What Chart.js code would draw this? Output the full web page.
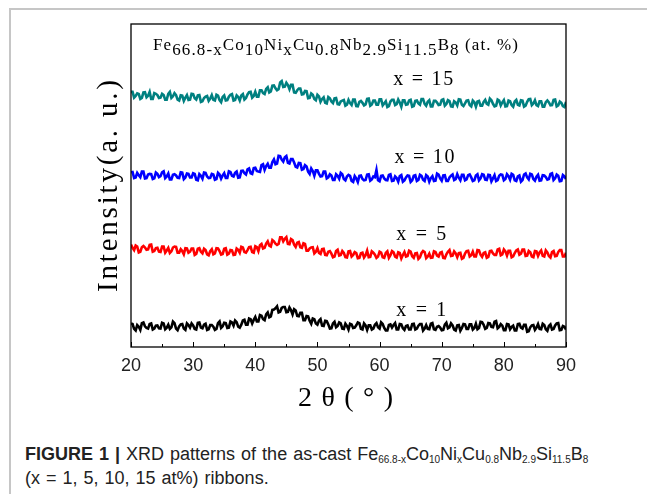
<!DOCTYPE html>
<html>
<head>
<meta charset="utf-8">
<script src="https://cdn.jsdelivr.net/npm/chart.js@4.4.0/dist/chart.umd.min.js"></script>
<style>
  body { margin: 0; background: #fff; }
  #page { position: relative; width: 647px; height: 494px; overflow: hidden; }
  #frame { position: absolute; left: 9px; top: 8px; width: 660px; height: 500px;
           border-left: 2px solid #c6c6c6; border-top: 2px solid #c6c6c6; }
  #xrd { position: absolute; left: 0; top: 0; }
  #caption { position: absolute; left: 25px; top: 442px; color: #222;
             font-family: "Liberation Sans", Arial, sans-serif; font-size: 18px; line-height: 24px; word-spacing: 1px; }
  #caption sub { font-size: 10px; vertical-align: -3px; line-height: 0; }
</style>
</head>
<body>
<div id="page">
  <div id="frame"></div>
  <canvas id="xrd" width="647" height="420"></canvas>
  <div id="caption"><b>FIGURE 1 |</b> XRD patterns of the as-cast Fe<sub>66.8-x</sub>Co<sub>10</sub>Ni<sub>x</sub>Cu<sub>0.8</sub>Nb<sub>2.9</sub>Si<sub>11.5</sub>B<sub>8</sub><br>(x = 1, 5, 10, 15 at%) ribbons.</div>
</div>
<script>
var twoTheta = [
  20, 20.25, 20.5, 20.75, 21, 21.25, 21.5, 21.75, 22, 22.25, 22.5, 22.75, 23, 23.25, 23.5, 23.75, 24, 24.25, 24.5, 24.75,
  25, 25.25, 25.5, 25.75, 26, 26.25, 26.5, 26.75, 27, 27.25, 27.5, 27.75, 28, 28.25, 28.5, 28.75, 29, 29.25, 29.5, 29.75,
  30, 30.25, 30.5, 30.75, 31, 31.25, 31.5, 31.75, 32, 32.25, 32.5, 32.75, 33, 33.25, 33.5, 33.75, 34, 34.25, 34.5, 34.75,
  35, 35.25, 35.5, 35.75, 36, 36.25, 36.5, 36.75, 37, 37.25, 37.5, 37.75, 38, 38.25, 38.5, 38.75, 39, 39.25, 39.5, 39.75,
  40, 40.25, 40.5, 40.75, 41, 41.25, 41.5, 41.75, 42, 42.25, 42.5, 42.75, 43, 43.25, 43.5, 43.75, 44, 44.25, 44.5, 44.75,
  45, 45.25, 45.5, 45.75, 46, 46.25, 46.5, 46.75, 47, 47.25, 47.5, 47.75, 48, 48.25, 48.5, 48.75, 49, 49.25, 49.5, 49.75,
  50, 50.25, 50.5, 50.75, 51, 51.25, 51.5, 51.75, 52, 52.25, 52.5, 52.75, 53, 53.25, 53.5, 53.75, 54, 54.25, 54.5, 54.75,
  55, 55.25, 55.5, 55.75, 56, 56.25, 56.5, 56.75, 57, 57.25, 57.5, 57.75, 58, 58.25, 58.5, 58.75, 59, 59.25, 59.5, 59.75,
  60, 60.25, 60.5, 60.75, 61, 61.25, 61.5, 61.75, 62, 62.25, 62.5, 62.75, 63, 63.25, 63.5, 63.75, 64, 64.25, 64.5, 64.75,
  65, 65.25, 65.5, 65.75, 66, 66.25, 66.5, 66.75, 67, 67.25, 67.5, 67.75, 68, 68.25, 68.5, 68.75, 69, 69.25, 69.5, 69.75,
  70, 70.25, 70.5, 70.75, 71, 71.25, 71.5, 71.75, 72, 72.25, 72.5, 72.75, 73, 73.25, 73.5, 73.75, 74, 74.25, 74.5, 74.75,
  75, 75.25, 75.5, 75.75, 76, 76.25, 76.5, 76.75, 77, 77.25, 77.5, 77.75, 78, 78.25, 78.5, 78.75, 79, 79.25, 79.5, 79.75,
  80, 80.25, 80.5, 80.75, 81, 81.25, 81.5, 81.75, 82, 82.25, 82.5, 82.75, 83, 83.25, 83.5, 83.75, 84, 84.25, 84.5, 84.75,
  85, 85.25, 85.5, 85.75, 86, 86.25, 86.5, 86.75, 87, 87.25, 87.5, 87.75, 88, 88.25, 88.5, 88.75, 89, 89.25, 89.5, 89.75, 90
];

// stacked intensities (a.u.), one curve per Ni content
var ni1 = [
  7.3, 7.1, 5.6, 5.1, 6.8, 6.3, 5.3, 7.4, 7.6, 6.4, 5.9, 5.7, 7.1, 7.3, 5.4, 5.7, 6.6, 6.7, 5.8, 5.7,
  7.5, 7.3, 5.5, 6.0, 6.9, 5.6, 6.1, 7.9, 7.4, 5.7, 5.2, 6.4, 7.0, 7.1, 5.7, 5.3, 7.3, 6.8, 6.0, 7.3,
  6.7, 5.6, 5.4, 7.5, 7.6, 6.0, 5.8, 6.9, 7.2, 5.3, 5.5, 6.8, 6.8, 6.3, 5.3, 5.6, 7.4, 7.9, 5.9, 6.4,
  7.5, 7.4, 5.9, 6.0, 7.9, 7.6, 6.6, 8.2, 7.7, 6.3, 6.0, 6.9, 8.2, 8.4, 6.9, 6.9, 8.8, 8.6, 7.3, 8.4,
  9.3, 7.9, 7.9, 9.9, 9.7, 8.6, 8.3, 10.1, 10.7, 9.2, 9.5, 11.5, 11.6, 12.0, 12.6, 10.7, 10.9, 12.1, 12.4, 12.4,
  10.8, 10.9, 12.2, 11.4, 10.1, 11.7, 11.3, 9.6, 9.5, 10.6, 10.6, 8.3, 8.3, 9.6, 9.5, 8.1, 7.2, 8.8, 8.6, 7.3,
  6.9, 8.1, 8.6, 6.6, 6.5, 8.1, 8.0, 7.0, 5.7, 5.8, 7.3, 7.8, 6.1, 6.5, 7.6, 7.3, 5.7, 5.6, 7.2, 6.5,
  5.4, 7.2, 7.0, 5.9, 6.0, 6.7, 7.6, 7.4, 5.6, 5.4, 7.3, 6.7, 5.3, 6.7, 6.7, 5.4, 5.7, 6.9, 7.4, 6.1,
  5.7, 7.6, 7.1, 5.9, 5.1, 5.1, 6.8, 7.0, 6.0, 6.8, 7.4, 5.4, 5.4, 7.1, 7.0, 5.8, 5.3, 6.5, 6.7, 5.4,
  5.4, 7.1, 7.2, 5.4, 5.7, 6.6, 7.1, 7.1, 5.1, 5.7, 6.8, 5.6, 5.5, 7.2, 7.4, 5.5, 5.3, 6.3, 6.5, 6.0,
  5.2, 5.3, 6.9, 7.5, 5.8, 6.1, 7.3, 6.7, 5.4, 5.1, 6.7, 6.8, 5.0, 5.9, 7.1, 7.0, 5.6, 5.6, 7.0, 7.0,
  5.4, 5.9, 7.2, 5.5, 5.9, 7.8, 7.7, 6.9, 5.6, 5.9, 7.4, 7.3, 6.2, 6.1, 7.8, 8.0, 5.8, 6.2, 7.1, 6.6,
  5.2, 5.2, 7.1, 7.0, 5.5, 6.2, 6.6, 5.1, 5.1, 7.1, 7.2, 6.0, 5.7, 6.9, 6.9, 4.7, 4.9, 6.1, 6.7, 6.8,
  5.3, 6.0, 7.1, 5.6, 5.5, 7.2, 6.8, 5.5, 5.0, 6.5, 7.0, 5.4, 5.6, 6.7, 7.3, 7.4, 5.2, 5.3, 6.5, 6.3, 5.4
];
var ni5 = [
  31.7, 30.7, 30.0, 31.4, 31.1, 29.3, 29.5, 30.9, 31.3, 30.8, 30.1, 30.2, 31.6, 31.7, 29.5, 29.7, 30.6, 30.7, 29.5, 29.4,
  31.1, 31.1, 29.2, 29.9, 30.7, 29.1, 29.6, 30.8, 31.1, 31.0, 29.2, 29.2, 30.3, 29.7, 28.7, 30.6, 30.5, 29.2, 29.5, 30.5,
  30.5, 28.5, 28.8, 30.4, 30.6, 29.5, 29.0, 30.4, 30.0, 28.7, 28.4, 29.7, 30.3, 28.7, 29.0, 30.6, 30.5, 29.7, 28.6, 28.8,
  30.4, 30.6, 28.6, 28.9, 30.0, 29.9, 28.5, 28.6, 30.5, 30.1, 29.2, 31.0, 30.8, 29.4, 29.2, 30.0, 30.9, 31.0, 29.4, 29.2,
  31.2, 30.9, 29.7, 31.5, 31.9, 30.5, 30.7, 32.0, 32.7, 31.4, 31.1, 33.1, 32.7, 32.0, 31.6, 31.9, 34.0, 34.0, 32.7, 33.5,
  34.0, 31.9, 31.8, 33.4, 33.1, 31.7, 31.0, 32.3, 32.5, 30.9, 30.7, 32.1, 31.9, 29.8, 29.8, 30.5, 30.8, 30.9, 29.0, 29.5,
  30.6, 29.1, 28.8, 30.3, 30.4, 28.5, 28.4, 29.5, 29.7, 28.9, 27.8, 28.0, 29.7, 30.1, 28.3, 28.5, 29.7, 29.1, 27.8, 27.7,
  29.6, 29.7, 28.0, 28.5, 29.4, 29.1, 27.5, 27.6, 29.0, 29.2, 27.7, 28.4, 29.8, 27.8, 27.9, 29.6, 29.2, 28.6, 27.6, 28.0,
  29.5, 29.2, 27.8, 27.6, 29.1, 29.6, 27.6, 28.4, 29.7, 29.3, 28.0, 27.7, 29.3, 29.1, 27.4, 28.5, 29.4, 28.0, 28.2, 29.8,
  29.5, 28.1, 27.6, 29.0, 29.1, 27.3, 27.8, 29.1, 29.7, 29.4, 27.5, 28.0, 28.9, 27.6, 27.7, 29.6, 29.4, 28.3, 28.0, 29.2,
  29.4, 27.6, 27.5, 28.7, 29.5, 30.0, 28.2, 28.3, 29.6, 29.0, 27.8, 29.1, 29.2, 27.3, 27.6, 28.9, 29.7, 29.8, 28.0, 28.4,
  29.5, 28.0, 28.0, 30.0, 29.9, 28.6, 27.9, 29.1, 29.3, 27.6, 27.9, 29.7, 29.8, 29.0, 28.5, 28.5, 30.2, 30.4, 28.4, 28.7,
  30.2, 29.6, 28.3, 29.8, 29.8, 27.8, 28.1, 29.1, 29.9, 30.2, 28.6, 28.9, 30.2, 30.2, 28.2, 28.3, 29.7, 29.3, 28.0, 27.8,
  29.7, 29.6, 28.2, 29.3, 29.9, 28.2, 28.0, 29.9, 29.3, 28.2, 27.7, 29.4, 29.7, 28.1, 28.2, 29.4, 30.0, 30.0, 28.0, 28.0, 29.2
];
var ni10 = [
  54.1, 54.2, 52.3, 52.5, 53.9, 53.2, 52.6, 54.3, 54.3, 52.2, 52.3, 53.4, 53.6, 53.5, 52.0, 52.2, 54.0, 53.6, 52.6, 52.9,
  54.1, 54.4, 52.3, 52.8, 53.7, 51.9, 51.9, 53.3, 53.5, 53.1, 52.4, 52.3, 54.1, 54.0, 52.0, 52.5, 53.7, 53.6, 52.5, 52.5,
  53.8, 53.6, 51.8, 51.6, 53.5, 53.0, 52.1, 54.0, 53.9, 52.8, 52.3, 52.4, 53.6, 53.4, 51.8, 52.0, 53.9, 53.4, 52.1, 53.1,
  53.8, 52.3, 52.3, 54.4, 54.2, 53.0, 52.8, 53.9, 54.3, 52.4, 52.5, 54.5, 54.6, 53.8, 53.4, 55.0, 55.3, 53.8, 53.6, 55.4,
  55.5, 54.5, 54.3, 54.2, 56.3, 56.6, 54.8, 56.0, 56.7, 55.5, 55.5, 57.3, 58.1, 56.6, 56.8, 59.2, 59.1, 58.0, 57.4, 58.7,
  59.1, 57.0, 56.8, 58.2, 58.2, 57.1, 55.8, 55.6, 57.0, 56.9, 54.9, 55.1, 56.3, 55.9, 54.3, 53.6, 55.3, 54.5, 53.0, 54.7,
  54.7, 53.6, 52.8, 52.9, 54.3, 54.3, 52.2, 52.5, 53.5, 53.1, 51.7, 51.7, 53.5, 53.0, 52.1, 53.9, 53.5, 52.0, 51.6, 52.8,
  53.3, 53.0, 51.4, 51.1, 52.9, 52.2, 51.1, 53.0, 53.1, 52.0, 51.6, 51.7, 53.4, 53.5, 51.5, 51.9, 52.8, 52.6, 54.8, 51.6,
  51.3, 53.0, 53.1, 52.2, 51.7, 51.6, 53.3, 53.5, 51.4, 51.5, 52.8, 52.3, 51.2, 52.9, 53.2, 51.2, 51.6, 52.5, 53.1, 53.0,
  51.1, 51.6, 53.0, 53.2, 51.4, 51.7, 53.3, 53.0, 51.8, 51.4, 53.2, 52.8, 51.2, 52.3, 52.9, 51.4, 51.5, 53.7, 53.4, 52.2,
  51.5, 53.1, 53.2, 51.4, 51.4, 52.5, 53.0, 53.4, 51.7, 52.0, 53.5, 52.4, 51.6, 53.3, 53.3, 51.6, 51.9, 53.2, 53.4, 52.5,
  51.4, 51.6, 53.1, 53.5, 51.6, 52.2, 53.5, 53.3, 51.8, 51.7, 53.3, 53.2, 51.3, 52.2, 53.2, 51.4, 51.7, 53.0, 53.4, 53.3,
  51.6, 52.0, 53.5, 52.9, 51.8, 53.6, 53.3, 51.6, 51.4, 52.8, 53.1, 51.2, 51.7, 53.4, 53.7, 52.5, 51.9, 53.6, 53.4, 52.0,
  51.5, 52.7, 53.3, 51.5, 51.6, 53.2, 53.1, 52.6, 51.8, 52.0, 53.6, 53.8, 51.7, 52.2, 53.4, 53.0, 51.3, 51.4, 53.2, 52.8, 52.0
];
var ni15 = [
  79.0, 79.0, 77.2, 77.7, 78.5, 78.3, 76.8, 77.1, 78.8, 78.9, 77.3, 77.8, 79.0, 76.8, 76.8, 78.6, 78.4, 78.0, 77.1, 77.2,
  78.4, 78.0, 76.6, 76.6, 78.4, 79.0, 77.1, 77.6, 78.6, 78.0, 76.6, 76.3, 77.9, 77.8, 76.2, 77.2, 78.0, 76.5, 76.6, 78.4,
  78.3, 77.0, 76.6, 77.9, 78.0, 75.9, 76.1, 77.1, 77.5, 77.7, 76.2, 76.9, 78.0, 76.5, 76.3, 78.1, 77.8, 76.4, 75.8, 77.4,
  77.9, 76.3, 76.4, 77.5, 78.1, 78.3, 76.3, 76.5, 77.9, 77.4, 76.3, 77.9, 78.3, 76.6, 77.1, 78.2, 78.9, 79.0, 77.2, 77.7,
  79.0, 77.5, 77.5, 79.5, 79.5, 78.6, 78.3, 79.9, 80.4, 78.8, 79.1, 80.9, 81.0, 80.1, 79.5, 79.8, 81.9, 82.3, 80.5, 80.6,
  81.8, 81.1, 79.8, 81.2, 81.2, 78.8, 78.7, 79.5, 80.0, 80.0, 78.2, 78.3, 79.3, 79.2, 77.0, 77.1, 78.5, 78.1, 76.8, 76.4,
  78.1, 77.6, 75.9, 76.8, 77.3, 75.6, 75.4, 77.4, 77.0, 76.0, 75.5, 77.0, 77.1, 75.2, 75.1, 76.0, 76.3, 76.5, 74.7, 75.0,
  76.5, 75.5, 74.9, 76.6, 76.6, 74.6, 74.5, 75.9, 76.2, 75.6, 74.8, 75.1, 76.8, 76.9, 74.7, 75.1, 76.3, 76.3, 75.0, 75.0,
  76.7, 76.7, 74.8, 75.4, 76.1, 74.3, 74.6, 76.0, 76.5, 76.5, 74.9, 75.2, 76.6, 75.7, 74.4, 76.4, 76.4, 75.0, 75.1, 76.3,
  76.5, 74.4, 74.6, 76.2, 76.3, 75.4, 75.0, 76.8, 76.8, 75.3, 74.7, 75.9, 76.4, 74.5, 74.5, 76.2, 76.2, 75.7, 74.9, 75.0,
  76.5, 76.7, 74.7, 75.2, 76.4, 76.1, 74.5, 74.4, 76.1, 75.7, 74.8, 76.7, 76.6, 75.0, 74.6, 75.4, 76.3, 76.4, 74.9, 74.5,
  76.3, 75.8, 74.4, 76.0, 76.2, 74.7, 74.7, 75.9, 76.5, 75.3, 75.0, 76.9, 76.4, 75.3, 74.5, 74.7, 76.6, 76.3, 74.8, 75.7,
  76.4, 74.5, 74.6, 76.3, 76.1, 74.9, 74.4, 76.0, 76.5, 75.0, 74.8, 76.4, 76.3, 74.4, 74.7, 75.9, 76.7, 76.8, 74.9, 75.4,
  76.4, 74.9, 74.6, 76.1, 76.1, 74.4, 74.4, 75.8, 76.3, 75.7, 74.8, 74.9, 76.5, 76.6, 74.5, 74.8, 76.0, 75.6, 74.6, 74.3, 75.9
];

var seriesNames = ['x = 1', 'x = 5', 'x = 10', 'x = 15'];
var seriesColors = ['#000000', '#ff0000', '#0000ff', '#008080'];
var xTicks = [20, 30, 40, 50, 60, 70, 80, 90];
var xMinorTicks = [25, 35, 45, 55, 65, 75, 85];

function points(vals) {
  return twoTheta.map(function (t, i) { return { x: t, y: vals[i] }; });
}

// draw a string char by char, spread so it spans `width` px
function spaced(c, parts, x, y, width) {
  var chars = [];
  parts.forEach(function (p) {
    p[0].split('').forEach(function (ch) { chars.push([ch, p[1]]); });
  });
  var natural = 0;
  chars.forEach(function (ch) { natural += c.measureText(ch[0]).width; });
  var gap = (width - natural) / (chars.length - 1);
  chars.forEach(function (ch) {
    c.fillText(ch[0], x, y + ch[1]);
    x += c.measureText(ch[0]).width + gap;
  });
}

var decorations = {
  id: 'decorations',
  afterDraw: function (chart) {
    var c = chart.ctx, a = chart.chartArea;
    var xs = chart.scales.x, ys = chart.scales.y;
    c.save();
    c.strokeStyle = '#000';
    c.lineWidth = 1.3;
    c.strokeRect(a.left, a.top, a.right - a.left, a.bottom - a.top);

    // inward ticks along the bottom edge
    c.lineWidth = 1;
    c.beginPath();
    xTicks.forEach(function (v) {
      var px = Math.round(xs.getPixelForValue(v)) + 0.5;
      c.moveTo(px, a.bottom); c.lineTo(px, a.bottom - 5);
    });
    xMinorTicks.forEach(function (v) {
      var px = Math.round(xs.getPixelForValue(v)) + 0.5;
      c.moveTo(px, a.bottom); c.lineTo(px, a.bottom - 3);
    });
    c.stroke();

    c.fillStyle = '#000';
    c.textAlign = 'left';
    c.textBaseline = 'alphabetic';

    // composition line at the top of the frame
    c.font = '17px "Liberation Serif", serif';
    spaced(c, [['Fe', 0], ['66.8-x', 5], ['Co', 0], ['10', 5], ['Ni', 0], ['x', 5],
               ['Cu', 0], ['0.8', 5], ['Nb', 0], ['2.9', 5], ['Si', 0], ['11.5', 5],
               ['B', 0], ['8', 5], [' (at. %)', 0]], 153, 50, 365);

    // curve labels, anchored in data coordinates
    var spots = [[62.7, 9.6, 50], [62.7, 33.1, 50], [62.4, 57.0, 60], [62.2, 81.1, 60]];
    c.font = '20px "Liberation Serif", serif';
    seriesNames.forEach(function (name, i) {
      var s = spots[i];
      spaced(c, [[name, 0]], xs.getPixelForValue(s[0]), ys.getPixelForValue(s[1]), s[2]);
    });

    // axis titles
    c.font = '28px "Liberation Serif", serif';
    spaced(c, [['2θ(°)', 0]], 298, 406, 95);

    c.translate(117, 186);
    c.rotate(-Math.PI / 2);
    c.font = '29px "Liberation Serif", serif';
    spaced(c, [['Intensity(a. u.)', 0]], -106, 0, 212);
    c.restore();
  }
};

var ctx = document.getElementById('xrd');

new Chart(ctx, {
  type: 'line',
  data: {
    datasets: [ni1, ni5, ni10, ni15].map(function (vals, i) {
      return {
        label: seriesNames[i],
        data: points(vals),
        borderColor: seriesColors[i],
        borderWidth: 2.6,
        borderJoinStyle: 'miter',
        pointRadius: 0,
        tension: 0
      };
    })
  },
  options: {
    responsive: false,
    animation: false,
    layout: { padding: { left: 131, right: 81, top: 24, bottom: 13 } },
    plugins: { legend: { display: false }, tooltip: { enabled: false } },
    scales: {
      x: {
        type: 'linear',
        min: 20,
        max: 90,
        afterBuildTicks: function (s) { s.ticks = xTicks.map(function (v) { return { value: v }; }); },
        afterFit: function (s) { s.height = 60; },
        grid: { display: false, drawTicks: false },
        border: { display: false },
        ticks: {
          padding: 8,
          color: '#222',
          font: { family: '"Liberation Sans", Arial, sans-serif', size: 18 }
        }
      },
      y: {
        min: 0,
        max: 100,
        afterFit: function (s) { s.width = 0; },
        grid: { display: false, drawTicks: false },
        border: { display: false },
        ticks: { display: false }
      }
    }
  },
  plugins: [decorations]
});
</script>
</body>
</html>
